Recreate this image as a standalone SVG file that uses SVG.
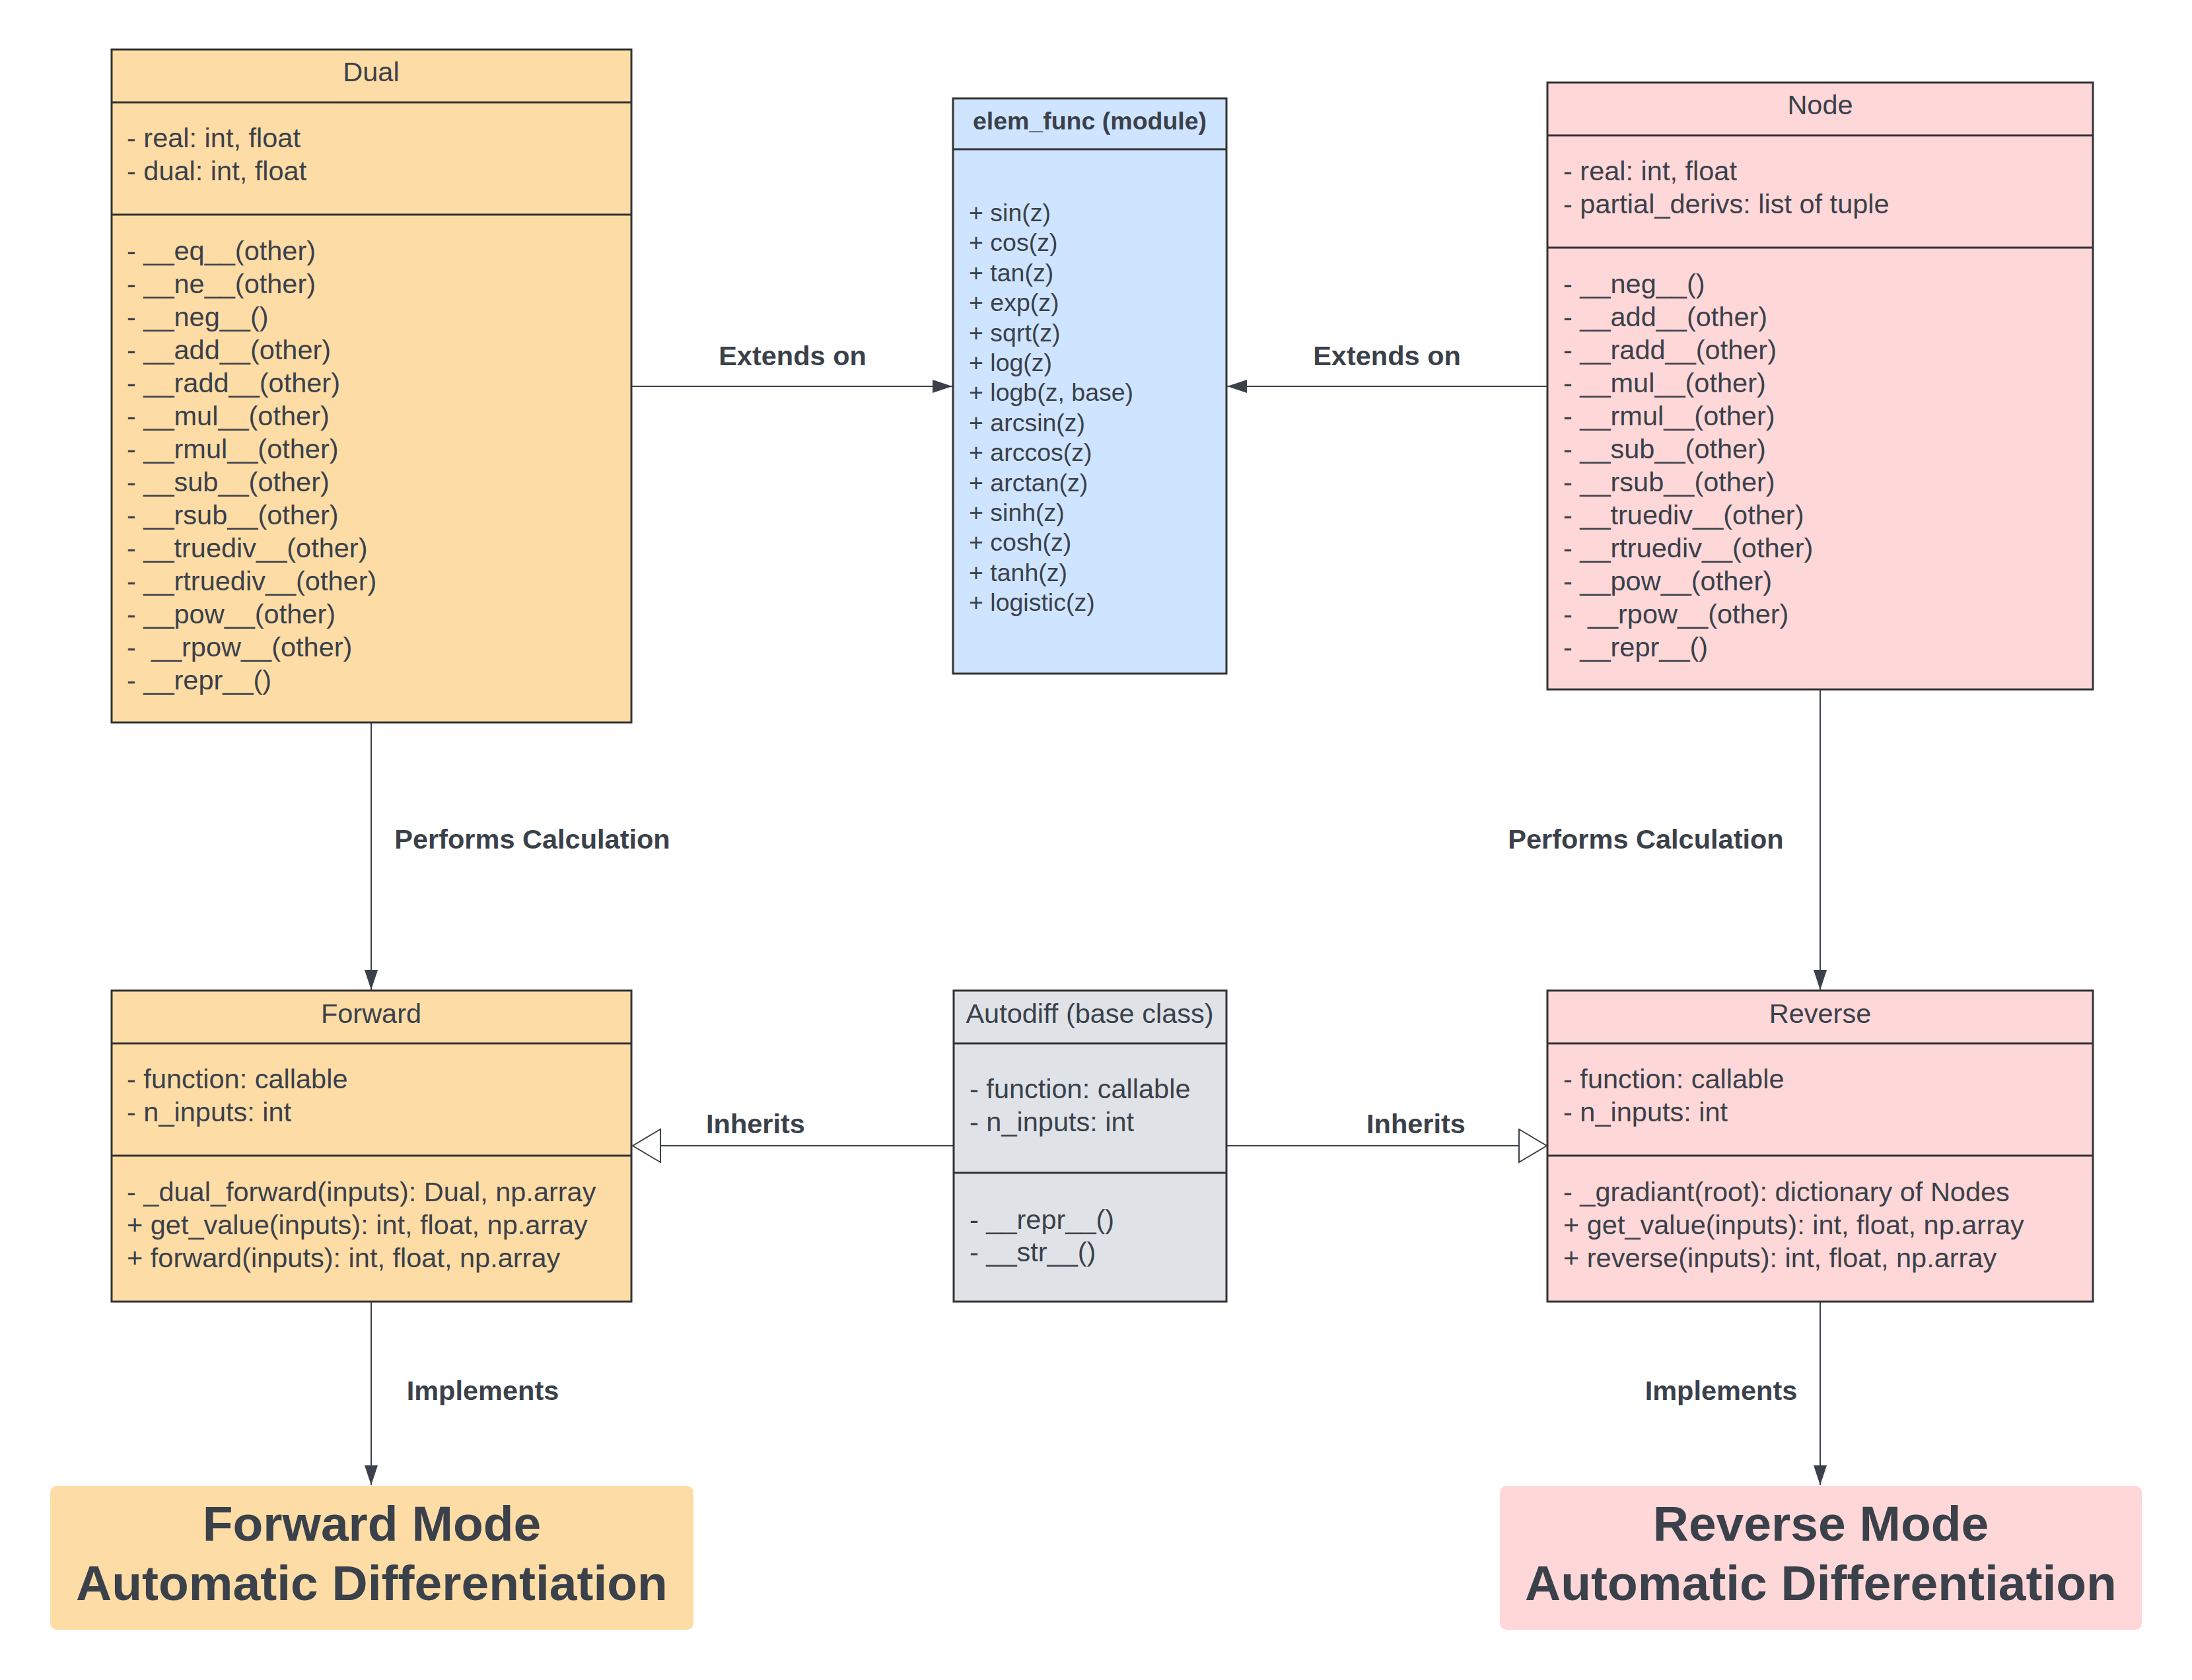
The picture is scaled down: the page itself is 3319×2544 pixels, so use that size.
<svg xmlns="http://www.w3.org/2000/svg" width="3319" height="2544" viewBox="0 0 3319 2544">
<style>
text{font-family:"Liberation Sans",Arial,sans-serif;fill:#3A414A;white-space:pre}
.t{font-size:41.5px}
.c{text-anchor:middle}
.b{font-weight:bold}
.s{font-size:37.5px}
.big{font-size:75px;font-weight:bold;text-anchor:middle}
.box{stroke:#333333;stroke-width:3}
.div{stroke:#333333;stroke-width:3;fill:none}
.orange{fill:#FEDCA6}
.pink{fill:#FED7D8}
.blue{fill:#CFE4FF}
.gray{fill:#DFE3E8}
.conn{stroke:#3A414A;stroke-width:2;fill:none}
</style>
<defs>
<marker id="arr" markerUnits="userSpaceOnUse" markerWidth="32" markerHeight="22" refX="30" refY="10" orient="auto" viewBox="0 0 32 22">
<path d="M0,0 L30,10 L0,20 z" fill="#3A414A"/>
</marker>
<marker id="tri" markerUnits="userSpaceOnUse" markerWidth="46" markerHeight="54" refX="43" refY="26" orient="auto" viewBox="0 0 46 54">
<path d="M1,1 L43,26 L1,51 z" fill="#FFFFFF" stroke="#3A414A" stroke-width="2"/>
</marker>
</defs>
<rect width="3319" height="2544" fill="#FFFFFF"/>

<g id="connectors">
<line class="conn" x1="957" y1="585" x2="1442" y2="585" marker-end="url(#arr)"/>
<line class="conn" x1="2342" y1="585" x2="1858" y2="585" marker-end="url(#arr)"/>
<line class="conn" x1="562" y1="1095" x2="562" y2="1499" marker-end="url(#arr)"/>
<line class="conn" x1="2756" y1="1045" x2="2756" y2="1499" marker-end="url(#arr)"/>
<line class="conn" x1="1444" y1="1735" x2="958" y2="1735" marker-end="url(#tri)"/>
<line class="conn" x1="1857" y1="1735" x2="2342" y2="1735" marker-end="url(#tri)"/>
<line class="conn" x1="562" y1="1972" x2="562" y2="2249" marker-end="url(#arr)"/>
<line class="conn" x1="2756" y1="1972" x2="2756" y2="2249" marker-end="url(#arr)"/>
<text class="t b c" x="1200" y="553">Extends on</text>
<text class="t b c" x="2100" y="553">Extends on</text>
<text class="t b c" x="806" y="1285">Performs Calculation</text>
<text class="t b c" x="2492" y="1285">Performs Calculation</text>
<text class="t b c" x="1144" y="1716">Inherits</text>
<text class="t b c" x="2144" y="1716">Inherits</text>
<text class="t b c" x="731" y="2120">Implements</text>
<text class="t b c" x="2606" y="2120">Implements</text>
</g>

<g id="dual">
<rect class="box orange" x="169" y="75" width="787" height="1019"/>
<line class="div" x1="169" y1="155" x2="956" y2="155"/>
<line class="div" x1="169" y1="325" x2="956" y2="325"/>
<text class="t c" x="562" y="123">Dual</text>
<text class="t" x="192" y="223">- real: int, float</text>
<text class="t" x="192" y="273">- dual: int, float</text>
<text class="t" x="192" y="394">- __eq__(other)</text>
<text class="t" x="192" y="444">- __ne__(other)</text>
<text class="t" x="192" y="494">- __neg__()</text>
<text class="t" x="192" y="544">- __add__(other)</text>
<text class="t" x="192" y="594">- __radd__(other)</text>
<text class="t" x="192" y="644">- __mul__(other)</text>
<text class="t" x="192" y="694">- __rmul__(other)</text>
<text class="t" x="192" y="744">- __sub__(other)</text>
<text class="t" x="192" y="794">- __rsub__(other)</text>
<text class="t" x="192" y="844">- __truediv__(other)</text>
<text class="t" x="192" y="894">- __rtruediv__(other)</text>
<text class="t" x="192" y="944">- __pow__(other)</text>
<text class="t" x="192" y="994">-  __rpow__(other)</text>
<text class="t" x="192" y="1044">- __repr__()</text>
</g>

<g id="elem_func">
<rect class="box blue" x="1443" y="149" width="414" height="871"/>
<line class="div" x1="1443" y1="226" x2="1857" y2="226"/>
<text class="s b c" x="1650" y="196">elem_func (module)</text>
<text class="s" x="1467" y="335">+ sin(z)</text>
<text class="s" x="1467" y="380.4">+ cos(z)</text>
<text class="s" x="1467" y="425.8">+ tan(z)</text>
<text class="s" x="1467" y="471.2">+ exp(z)</text>
<text class="s" x="1467" y="516.6">+ sqrt(z)</text>
<text class="s" x="1467" y="562">+ log(z)</text>
<text class="s" x="1467" y="607.4">+ logb(z, base)</text>
<text class="s" x="1467" y="652.8">+ arcsin(z)</text>
<text class="s" x="1467" y="698.2">+ arccos(z)</text>
<text class="s" x="1467" y="743.6">+ arctan(z)</text>
<text class="s" x="1467" y="789">+ sinh(z)</text>
<text class="s" x="1467" y="834.4">+ cosh(z)</text>
<text class="s" x="1467" y="879.8">+ tanh(z)</text>
<text class="s" x="1467" y="925.2">+ logistic(z)</text>
</g>

<g id="node">
<rect class="box pink" x="2343" y="125" width="826" height="919"/>
<line class="div" x1="2343" y1="205" x2="3169" y2="205"/>
<line class="div" x1="2343" y1="375" x2="3169" y2="375"/>
<text class="t c" x="2756" y="173">Node</text>
<text class="t" x="2367" y="273">- real: int, float</text>
<text class="t" x="2367" y="323">- partial_derivs: list of tuple</text>
<text class="t" x="2367" y="444">- __neg__()</text>
<text class="t" x="2367" y="494">- __add__(other)</text>
<text class="t" x="2367" y="544">- __radd__(other)</text>
<text class="t" x="2367" y="594">- __mul__(other)</text>
<text class="t" x="2367" y="644">- __rmul__(other)</text>
<text class="t" x="2367" y="694">- __sub__(other)</text>
<text class="t" x="2367" y="744">- __rsub__(other)</text>
<text class="t" x="2367" y="794">- __truediv__(other)</text>
<text class="t" x="2367" y="844">- __rtruediv__(other)</text>
<text class="t" x="2367" y="894">- __pow__(other)</text>
<text class="t" x="2367" y="944">-  __rpow__(other)</text>
<text class="t" x="2367" y="994">- __repr__()</text>
</g>

<g id="forward">
<rect class="box orange" x="169" y="1500" width="787" height="471"/>
<line class="div" x1="169" y1="1580" x2="956" y2="1580"/>
<line class="div" x1="169" y1="1750" x2="956" y2="1750"/>
<text class="t c" x="562" y="1549">Forward</text>
<text class="t" x="192" y="1648">- function: callable</text>
<text class="t" x="192" y="1698">- n_inputs: int</text>
<text class="t" x="192" y="1819">- _dual_forward(inputs): Dual, np.array</text>
<text class="t" x="192" y="1869">+ get_value(inputs): int, float, np.array</text>
<text class="t" x="192" y="1919">+ forward(inputs): int, float, np.array</text>
</g>

<g id="autodiff">
<rect class="box gray" x="1444" y="1500" width="413" height="471"/>
<line class="div" x1="1444" y1="1580" x2="1857" y2="1580"/>
<line class="div" x1="1444" y1="1776" x2="1857" y2="1776"/>
<text class="t c" x="1650" y="1549">Autodiff (base class)</text>
<text class="t" x="1468" y="1663">- function: callable</text>
<text class="t" x="1468" y="1713">- n_inputs: int</text>
<text class="t" x="1468" y="1861">- __repr__()</text>
<text class="t" x="1468" y="1910">- __str__()</text>
</g>

<g id="reverse">
<rect class="box pink" x="2343" y="1500" width="826" height="471"/>
<line class="div" x1="2343" y1="1580" x2="3169" y2="1580"/>
<line class="div" x1="2343" y1="1750" x2="3169" y2="1750"/>
<text class="t c" x="2756" y="1549">Reverse</text>
<text class="t" x="2367" y="1648">- function: callable</text>
<text class="t" x="2367" y="1698">- n_inputs: int</text>
<text class="t" x="2367" y="1819">- _gradiant(root): dictionary of Nodes</text>
<text class="t" x="2367" y="1869">+ get_value(inputs): int, float, np.array</text>
<text class="t" x="2367" y="1919">+ reverse(inputs): int, float, np.array</text>
</g>

<g id="forward_mode">
<rect class="orange" x="76" y="2250" width="974" height="218" rx="10" ry="10"/>
<text class="big" x="563" y="2333">Forward Mode</text>
<text class="big" x="563" y="2423">Automatic Differentiation</text>
</g>

<g id="reverse_mode">
<rect class="pink" x="2271" y="2250" width="972" height="218" rx="10" ry="10"/>
<text class="big" x="2757" y="2333">Reverse Mode</text>
<text class="big" x="2757" y="2423">Automatic Differentiation</text>
</g>
</svg>
